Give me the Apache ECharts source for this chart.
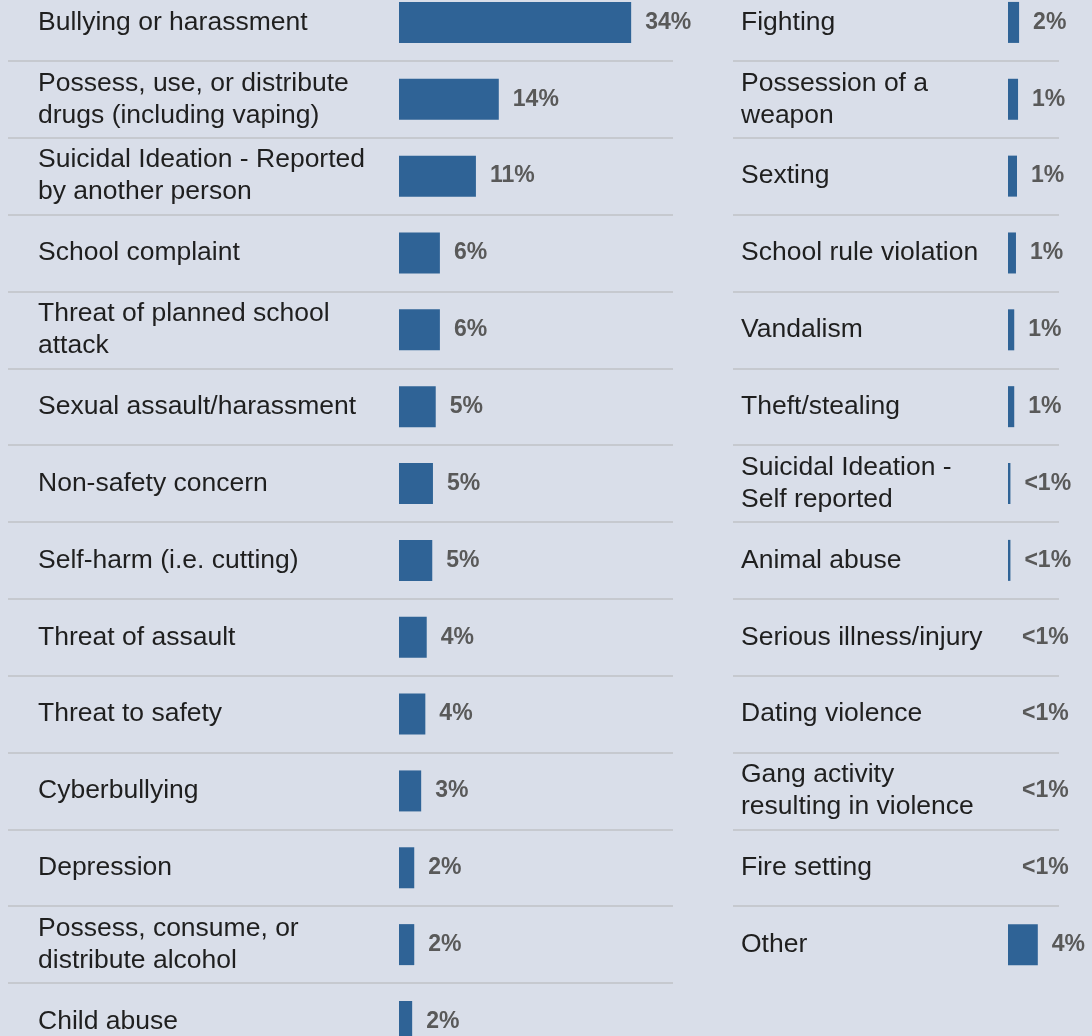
<!DOCTYPE html>
<html>
<head>
<meta charset="utf-8">
<title>Tip categories</title>
<script src="https://cdn.jsdelivr.net/npm/echarts@6/dist/echarts.min.js"></script>
<style>
  html, body { margin: 0; padding: 0; background: #d9dee9; overflow: hidden; }
  body { width: 1092px; height: 1036px; position: relative; }
  /* the first row begins slightly above the visible area */
  #chart { position: absolute; left: 0; top: -16px; width: 1092px; height: 1100px; }
</style>
</head>
<body>
<div id="chart"></div>
<script>
// Share of tips by category (percent)
const leftCategories = [
  "Bullying or harassment",
  "Possess, use, or distribute\ndrugs (including vaping)",
  "Suicidal Ideation - Reported\nby another person",
  "School complaint",
  "Threat of planned school\nattack",
  "Sexual assault/harassment",
  "Non-safety concern",
  "Self-harm (i.e. cutting)",
  "Threat of assault",
  "Threat to safety",
  "Cyberbullying",
  "Depression",
  "Possess, consume, or\ndistribute alcohol",
  "Child abuse"
];
const leftValues = [33.5, 14.4, 11.1, 5.9, 5.9, 5.3, 4.9, 4.8, 4.0, 3.8, 3.2, 2.2, 2.2, 1.9];

const rightCategories = [
  "Fighting",
  "Possession of a\nweapon",
  "Sexting",
  "School rule violation",
  "Vandalism",
  "Theft/stealing",
  "Suicidal Ideation -\nSelf reported",
  "Animal abuse",
  "Serious illness/injury",
  "Dating violence",
  "Gang activity\nresulting in violence",
  "Fire setting",
  "Other"
];
const rightValues = [1.6, 1.45, 1.3, 1.15, 0.9, 0.9, 0.35, 0.35, 0, 0, 0, 0, 4.3];

const FONT = "'Liberation Sans', Arial, Helvetica, sans-serif";
const ROW = 76.85;          // height of one row
const PX_PER_PCT = 6.93;    // shared scale for both panels
const BAR_COLOR = '#2f6396';
const SEP_COLOR = '#c6c9cf';

function pctLabel(v) {
  return v < 0.5 ? '<1%' : Math.round(v) + '%';
}

const catAxisBase = {
  type: 'category',
  inverse: true,
  axisLine: { show: false },
  axisTick: { show: false }
};

const labelStyle = {
  show: true,
  position: 'right',
  distance: 14,
  fontFamily: FONT,
  fontSize: 23,
  fontWeight: 'bold',
  color: '#595959',
  formatter: p => pctLabel(p.value)
};

const leftMax = 40, rightMax = 12;

const option = {
  backgroundColor: '#d9dee9',
  animation: false,
  grid: [
    // bar areas
    { left: 399, top: 0, width: leftMax * PX_PER_PCT, height: leftCategories.length * ROW },
    { left: 1008, top: 0, width: rightMax * PX_PER_PCT, height: rightCategories.length * ROW },
    // row separators
    { left: 8, top: 0, width: 665, height: leftCategories.length * ROW },
    { left: 733, top: 0, width: 326, height: (rightCategories.length - 1) * ROW }
  ],
  xAxis: [
    { gridIndex: 0, type: 'value', min: 0, max: leftMax, show: false },
    { gridIndex: 1, type: 'value', min: 0, max: rightMax, show: false },
    { gridIndex: 2, type: 'value', min: 0, max: 1, show: false },
    { gridIndex: 3, type: 'value', min: 0, max: 1, show: false }
  ],
  yAxis: [
    Object.assign({}, catAxisBase, {
      gridIndex: 0,
      data: leftCategories,
      splitLine: { show: false },
      axisLabel: {
        align: 'left', margin: 361,
        fontFamily: FONT, fontSize: 26.5, lineHeight: 32, color: '#1f1f1f'
      }
    }),
    Object.assign({}, catAxisBase, {
      gridIndex: 1,
      data: rightCategories,
      splitLine: { show: false },
      axisLabel: {
        align: 'left', margin: 267,
        fontFamily: FONT, fontSize: 26.5, lineHeight: 32, color: '#1f1f1f'
      }
    }),
    Object.assign({}, catAxisBase, {
      gridIndex: 2,
      data: leftCategories,
      axisLabel: { show: false },
      splitLine: { show: true, lineStyle: { color: SEP_COLOR, width: 2 } }
    }),
    Object.assign({}, catAxisBase, {
      gridIndex: 3,
      data: rightCategories.slice(0, rightCategories.length - 1),
      axisLabel: { show: false },
      splitLine: { show: true, lineStyle: { color: SEP_COLOR, width: 2 } }
    })
  ],
  series: [
    {
      type: 'bar', xAxisIndex: 0, yAxisIndex: 0,
      data: leftValues, barWidth: 41,
      itemStyle: { color: BAR_COLOR },
      label: labelStyle
    },
    {
      type: 'bar', xAxisIndex: 1, yAxisIndex: 1,
      data: rightValues, barWidth: 41,
      itemStyle: { color: BAR_COLOR },
      label: labelStyle
    }
  ]
};

const chart = echarts.init(document.getElementById('chart'), null, { renderer: 'canvas' });
chart.setOption(option);
</script>
</body>
</html>
